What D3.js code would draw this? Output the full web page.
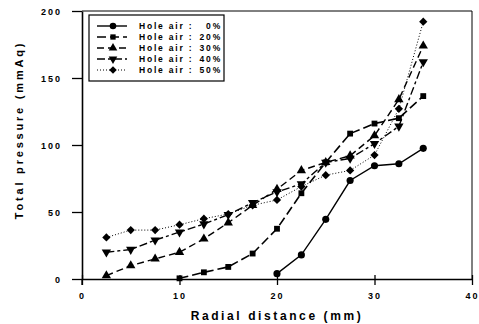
<!DOCTYPE html>
<html lang="en">

<head>
    <meta charset="UTF-8">
    <title>Total pressure vs radial distance</title>
    <script src="https://d3js.org/d3.v7.min.js"></script>
    <style>
        body {
            margin: 0;
            padding: 0;
            background: white;
        }

        text {
            font-family: "Liberation Sans", Arial, sans-serif;
            font-weight: bold;
            fill: black;
        }
    </style>
</head>

<body>
    <div id='main'></div>

    <script>
        // values (mmAq), null = no point
        var radial = [2.5, 5, 7.5, 10, 12.5, 15, 17.5, 20, 22.5, 25, 27.5, 30, 32.5, 35];
        var hole0 = [null, null, null, null, null, null, null, 4, 18, 44.5, 73.5, 84.5, 86, 97.5];
        var hole20 = [null, null, null, 0.5, 5, 9, 19, 37.5, 64, 87, 108.5, 116, 120, 136.5];
        var hole30 = [2.5, 10, 15, 20, 30, 42, 55, 67, 81, 87, 92, 107, 134, 174];
        var hole40 = [20, 22, 29, 35, 41, 48, 57, 65, 71, 87, 90, 101, 114, 162];
        var hole50 = [31, 36.5, 36.5, 40.5, 45, 48.5, 55, 59, 69, 77.5, 81, 92.5, 127, 192];

        var percents = ['0%', '20%', '30%', '40%', '50%'];
        var xTicks = [0, 10, 20, 30, 40];
        var yTicks = [0, 50, 100, 150, 200];

        var width = 479;
        var height = 324;
        var margin = { left: 82, top: 11, right: 7, bottom: 45 };

        var x = d3.scaleLinear().domain([0, 40]).range([margin.left, width - margin.right]);
        var y = d3.scaleLinear().domain([0, 200]).range([height - margin.bottom, margin.top]);

        var svg = d3.select('#main')
            .append('svg')
            .attr('width', width)
            .attr('height', height);

        // frame top / right
        svg.append('path')
            .attr('d', 'M' + x(0) + ',' + y(200) + 'H' + x(40) + 'V' + y(0))
            .attr('fill', 'none')
            .attr('stroke', 'black')
            .attr('stroke-width', 1);

        var xAxis = svg.append('g')
            .attr('transform', 'translate(0,' + y(0) + ')')
            .call(d3.axisBottom(x).tickValues(xTicks).tickSizeInner(6).tickSizeOuter(0).tickPadding(8));

        // ticks cross the axis line
        xAxis.selectAll('.tick line').attr('y1', -4);

        var yAxis = svg.append('g')
            .attr('transform', 'translate(' + x(0) + ',0)')
            .call(d3.axisLeft(y).tickValues(yTicks).tickSizeInner(10).tickSizeOuter(0).tickPadding(10));

        svg.selectAll('.domain').attr('stroke-width', 1.6);
        svg.selectAll('.tick line').attr('stroke-width', 1.3);
        svg.selectAll('.tick text')
            .style('font-size', '9px')
            .style('font-family', '"Liberation Sans", Arial, sans-serif')
            .style('font-weight', 'bold')
            .style('letter-spacing', '2px');
        yAxis.selectAll('.tick text').attr('dy', '0.35em');

        // y axis sticks out a little below zero
        svg.append('line')
            .attr('x1', x(0)).attr('x2', x(0))
            .attr('y1', y(0)).attr('y2', y(0) + 6)
            .attr('stroke', 'black').attr('stroke-width', 1.3);

        svg.append('text')
            .attr('x', 277)
            .attr('y', 320)
            .attr('text-anchor', 'middle')
            .style('font-size', '12px')
            .style('letter-spacing', '2.6px')
            .text('Radial distance (mm)');

        svg.append('text')
            .attr('transform', 'translate(23,130) rotate(-90)')
            .attr('text-anchor', 'middle')
            .style('font-size', '11px')
            .style('letter-spacing', '2.8px')
            .text('Total pressure (mmAq)');

        var series = [
            { pct: percents[0], values: hole0, dash: null, width: 1.4, symbol: d3.symbolCircle, rot: 0, size: 40 },
            { pct: percents[1], values: hole20, dash: '9,4', width: 1.6, symbol: d3.symbolSquare, rot: 0, size: 34 },
            { pct: percents[2], values: hole30, dash: '7,4', width: 1.4, symbol: d3.symbolTriangle, rot: 0, size: 38 },
            { pct: percents[3], values: hole40, dash: '8,3,3,3', width: 1.4, symbol: d3.symbolTriangle, rot: 180, size: 38 },
            { pct: percents[4], values: hole50, dash: '1,2', width: 1, symbol: d3.symbolSquare, rot: 45, size: 34 }
        ];

        var line = d3.line()
            .defined(function(d) { return d[1] != null; })
            .x(function(d) { return x(d[0]); })
            .y(function(d) { return y(d[1]); });

        series.forEach(function(s) {
            var pts = radial.map(function(r, i) { return [r, s.values[i]]; });

            svg.append('path')
                .datum(pts)
                .attr('d', line)
                .attr('fill', 'none')
                .attr('stroke', 'black')
                .attr('stroke-width', s.width)
                .attr('stroke-dasharray', s.dash);

            svg.selectAll(null)
                .data(pts.filter(function(d) { return d[1] != null; }))
                .enter()
                .append('path')
                .attr('d', d3.symbol().type(s.symbol).size(s.size))
                .attr('transform', function(d) { return 'translate(' + x(d[0]) + ',' + y(d[1]) + ') rotate(' + s.rot + ')'; })
                .attr('fill', 'black');
        });

        // legend
        var legend = svg.append('g');
        legend.append('rect')
            .attr('x', 89).attr('y', 15)
            .attr('width', 135).attr('height', 66)
            .attr('fill', 'white')
            .attr('stroke', 'black')
            .attr('stroke-width', 1.2);

        series.forEach(function(s, i) {
            var ly = 26 + i * 11;
            legend.append('line')
                .attr('x1', 97).attr('x2', 127)
                .attr('y1', ly).attr('y2', ly)
                .attr('stroke', 'black')
                .attr('stroke-width', s.width)
                .attr('stroke-dasharray', s.dash);
            legend.append('path')
                .attr('d', d3.symbol().type(s.symbol).size(s.size - 6))
                .attr('transform', 'translate(113,' + ly + ') rotate(' + s.rot + ')')
                .attr('fill', 'black');
            legend.append('text')
                .attr('x', 139).attr('y', ly)
                .attr('dy', '0.35em')
                .style('font-size', '8.5px')
                .style('letter-spacing', '1.8px')
                .text('Hole air :');
            legend.append('text')
                .attr('x', 222).attr('y', ly)
                .attr('dy', '0.35em')
                .attr('text-anchor', 'end')
                .style('font-size', '8.5px')
                .style('letter-spacing', '1.8px')
                .text(s.pct);
        });
    </script>
</body>

</html>
